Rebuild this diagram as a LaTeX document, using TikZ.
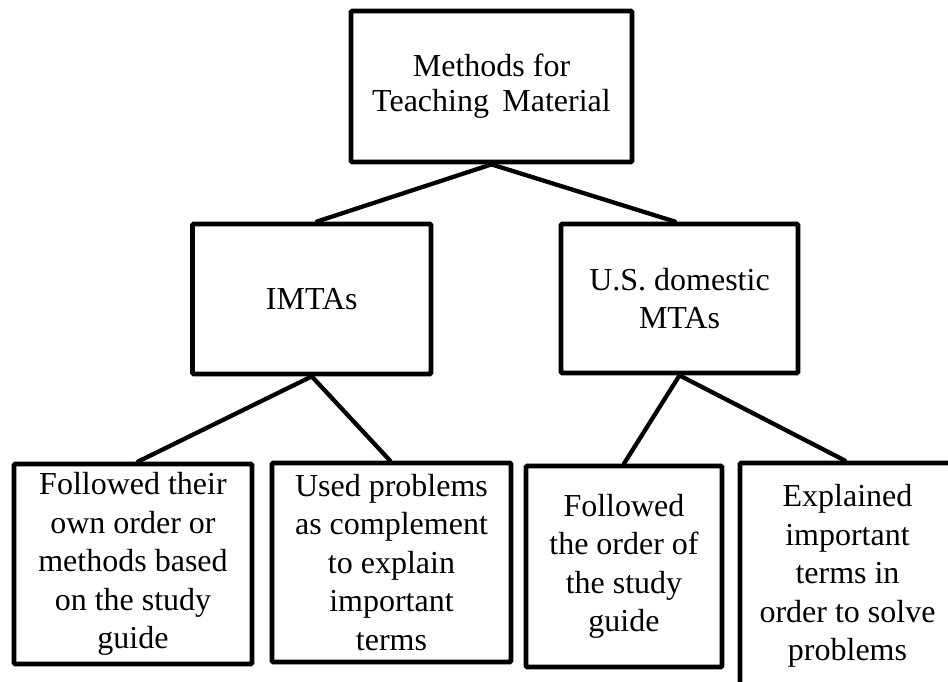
\documentclass[tikz,border=0pt]{standalone}
\usepackage{fontspec}
\setmainfont{Liberation Serif}
\begin{document}
\begin{tikzpicture}[x=1pt,y=-1pt,
  box/.style={draw=black, line width=4.8pt, rounded corners=1.2pt, rectangle,
    inner sep=0pt, align=center, fill=white,
    font=\fontsize{32}{38.5}\selectfont},
  link/.style={draw=black, line width=4.3pt, line cap=round}]
  \useasboundingbox (0,0) rectangle (948,682);
  \clip (0,0) rectangle (948,682);
  \fill[white] (0,0) rectangle (948,682);

  % root
  \node[box, minimum width=281pt, minimum height=151pt,
        font=\fontsize{32}{35}\selectfont] (root) at (491.5,86.5)
        {Methods for\\Teaching\, Material};

  % second level
  \node[box, minimum width=238.5pt, minimum height=150pt] (imtas) at (311.75,299)
        {IMTAs};
  \node[box, minimum width=237pt, minimum height=149pt] (dom) at (679.5,298.5)
        {U.S. domestic\\MTAs};

  % leaves
  \node[box, minimum width=238pt, minimum height=200pt] (l1) at (133,564)
        {Followed their\\own order or\\methods based\\on the study\\guide};
  \node[box, minimum width=239pt, minimum height=199pt] (l2) at (391.5,562.5)
        {Used problems\\as complement\\to explain\\important\\terms};
  \node[box, minimum width=196pt, minimum height=201pt] (l3) at (624,566.5)
        {Followed\\the order of\\the study\\guide};
  \node[box, minimum width=215pt, minimum height=226pt] (l4) at (847.5,576)
        {Explained\\important\\terms in\\order to solve\\problems};

  % connectors
  \draw[link] (root.south) -- ([xshift=5pt]imtas.north);
  \draw[link] (root.south) -- ([xshift=-4.5pt]dom.north);
  \draw[link] (imtas.south) -- ([xshift=5pt]l1.north);
  \draw[link] (imtas.south) -- ([xshift=-1.5pt]l2.north);
  \draw[link] (dom.south) -- (l3.north);
  \draw[link] (dom.south) -- ([xshift=-2.5pt]l4.north);
\end{tikzpicture}
\end{document}
